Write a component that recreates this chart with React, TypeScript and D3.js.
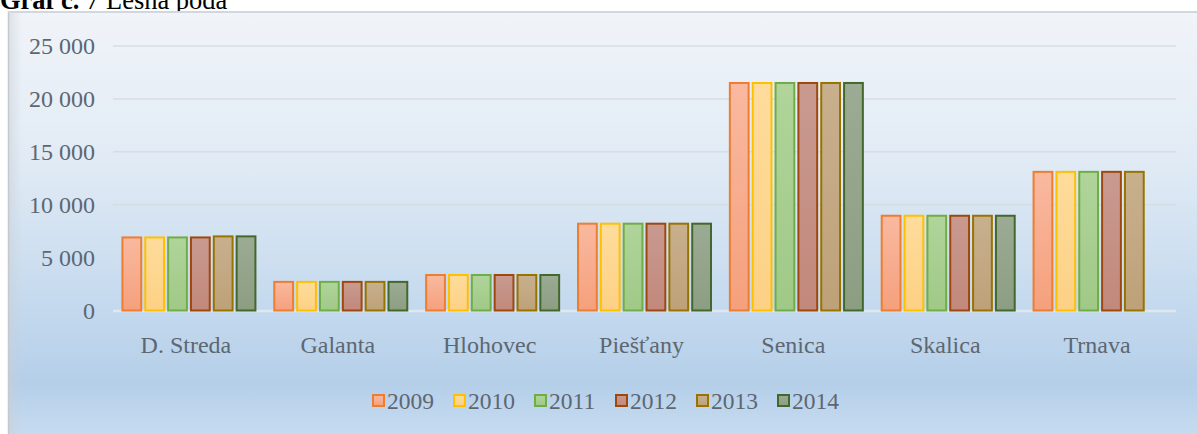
import React from "react";
import * as d3 from "d3";

const categories = ["D. Streda", "Galanta", "Hlohovec", "Piešťany", "Senica", "Skalica", "Trnava"];
const years = ["2009", "2010", "2011", "2012", "2013", "2014"];
const v2009 = [7000, 2800, 3450, 8300, 21600, 9050, 13200];
const v2010 = [7000, 2800, 3450, 8300, 21600, 9050, 13200];
const v2011 = [7000, 2800, 3450, 8300, 21600, 9050, 13200];
const v2012 = [7000, 2800, 3450, 8300, 21600, 9050, 13200];
const v2013 = [7100, 2800, 3450, 8300, 21600, 9050, 13200];
const v2014 = [7100, 2800, 3450, 8300, 21600, 9050, null];
const yTicks = [0, 5000, 10000, 15000, 20000, 25000];

const seriesValues = [v2009, v2010, v2011, v2012, v2013, v2014];
const strokes = ["#ed7d31", "#ffc000", "#70ad47", "#9e480e", "#997300", "#43682b"];
const fillsTop = ["#f9b9a0", "#fedc9c", "#b0d49a", "#c99a90", "#c8b08e", "#9cab94"];
const fillsBot = ["#f5a07c", "#fdd184", "#a0c987", "#c2887b", "#bea178", "#8c9e82"];

const W = 1197;
const H = 434;
const FONT = "'Liberation Serif', 'Times New Roman', serif";
const TXT = "#5d6772";

export default function App() {
  const x = d3.scaleBand<string>().domain(categories).range([113, 1176]).padding(0);
  const inner = d3.scaleBand<string>().domain(years).range([-67.5, 67.5]).paddingInner(0.09).paddingOuter(0);
  const y = d3.scaleLinear().domain([0, 25000]).range([310.5, 46]);
  const fmt = (v: number) => d3.format(",")(v).replace(/,/g, " ");

  const legendStep = 81;
  const legendStart = 372;

  return (
    <svg width={W} height={H} style={{ position: "absolute", left: 0, top: 0, background: "#fff" }}>
      <defs>
        <linearGradient id="bg" x1="0" y1="0" x2="0" y2="1">
          <stop offset="0" stopColor="#f1f4f9" />
          <stop offset="0.35" stopColor="#e1ebf5" />
          <stop offset="0.7" stopColor="#c4d9ee" />
          <stop offset="0.88" stopColor="#b5cfe9" />
          <stop offset="1" stopColor="#c6dbf0" />
        </linearGradient>
        <linearGradient id="edge" x1="0" y1="0" x2="1" y2="0">
          <stop offset="0" stopColor="#c9ced4" />
          <stop offset="1" stopColor="#c9ced4" stopOpacity="0" />
        </linearGradient>
        {years.map((yr, i) => (
          <linearGradient key={yr} id={`g${i}`} x1="0" y1="0" x2="0" y2="1">
            <stop offset="0" stopColor={fillsTop[i]} />
            <stop offset="1" stopColor={fillsBot[i]} />
          </linearGradient>
        ))}
      </defs>

      <text x={0} y={9} fontFamily={FONT} fontSize={26.5} fill="#000">
        <tspan fontWeight="bold">Graf č.</tspan>
        <tspan> 7 Lesná pôda</tspan>
      </text>

      <rect x={8} y={11} width={W - 8} height={H - 11} fill="url(#bg)" />
      <rect x={8} y={11} width={14} height={H - 11} fill="url(#edge)" opacity={0.5} />
      <line x1={8.5} y1={11} x2={8.5} y2={H} stroke="#c4c9cf" strokeWidth={1.5} />
      <line x1={8} y1={12} x2={W} y2={12} stroke="#d2d7dd" strokeWidth={2} />

      {yTicks.map((t) => (
        <g key={t}>
          {t > 0 && (
            <line x1={113} x2={1176} y1={y(t)} y2={y(t)} stroke="#d6dce3" strokeWidth={1.5} />
          )}
          <text
            x={95}
            y={y(t)}
            dy="0.35em"
            textAnchor="end"
            fontFamily={FONT}
            fontSize={24}
            fill={TXT}
          >
            {fmt(t)}
          </text>
        </g>
      ))}
      <line x1={113} x2={1176} y1={y(0) + 0.5} y2={y(0) + 0.5} stroke="#dfe7ef" strokeWidth={2.5} />

      {categories.map((c, ci) => {
        const cx = (x(c) as number) + x.bandwidth() / 2;
        return (
          <g key={c}>
            {years.map((yr, si) => {
              const v = seriesValues[si][ci];
              if (v == null) return null;
              const bx = cx + (inner(yr) as number);
              const bw = inner.bandwidth();
              const top = y(v);
              return (
                <rect
                  key={yr}
                  x={bx + 1}
                  y={top + 1}
                  width={bw - 2}
                  height={y(0) - top - 1}
                  fill={`url(#g${si})`}
                  stroke={strokes[si]}
                  strokeWidth={2}
                />
              );
            })}
            <text
              x={cx - 3}
              y={345}
              dy="0.35em"
              textAnchor="middle"
              fontFamily={FONT}
              fontSize={24}
              fill={TXT}
            >
              {c}
            </text>
          </g>
        );
      })}

      {years.map((yr, i) => {
        const lx = legendStart + i * legendStep;
        return (
          <g key={yr}>
            <rect x={lx + 1} y={395} width={11} height={11} fill={`url(#g${i})`} stroke={strokes[i]} strokeWidth={2} />
            <text x={lx + 15} y={401} dy="0.35em" fontFamily={FONT} fontSize={23.5} fill={TXT}>
              {yr}
            </text>
          </g>
        );
      })}
    </svg>
  );
}
